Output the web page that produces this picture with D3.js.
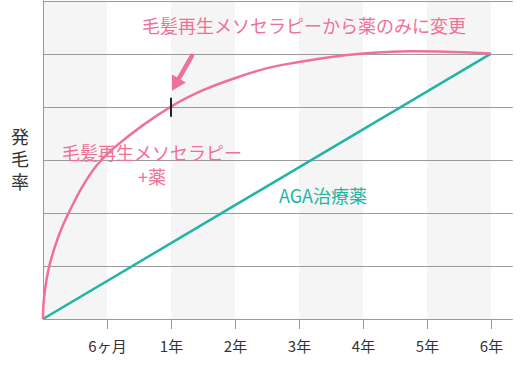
<!DOCTYPE html>
<html>
<head>
<meta charset="utf-8">
<script src="https://cdn.jsdelivr.net/npm/d3@7"></script>
<style>
  body { margin: 0; background: #fff; }
  svg { display: block; font-family: "Noto Sans CJK JP", sans-serif; }
</style>
</head>
<body>
<svg id="chart" width="526" height="372"></svg>
<script>
// tick labels along the bottom (index 1..7)
const xLabels = ['6ヶ月', '1年', '2年', '3年', '4年', '5年', '6年'];
const yGrid = [1, 2, 3, 4, 5, 6];

// mesotherapy + drug curve: [axis position, growth]
const mesoX = [0, 0.003, 0.013, 0.054, 0.103, 0.222, 0.306, 0.422, 0.609, 0.844, 1.156, 2.0, 2.5, 3.03, 3.55, 3.95, 4.48, 5.0, 5.58, 6.67, 7];
const mesoY = [0, 0.18, 0.36, 0.73, 1.02, 1.49, 1.75, 2.05, 2.48, 2.90, 3.27, 4.0, 4.31, 4.55, 4.74, 4.83, 4.93, 5.0, 5.04, 5.02, 5.0];

// AGA drug only
const agaX = [0, 7];
const agaY = [0, 5];

const pink = '#ef7199';
const teal = '#22b4a6';

const svg = d3.select('#chart');

const x = d3.scaleLinear().domain([0, 7]).range([43, 491]);
const y = d3.scaleLinear().domain([0, 6]).range([319, 0.5]);
const xMax = 7.34;

//shaded columns
svg.append('g')
    .selectAll('rect')
    .data([0, 2, 4, 6])
    .enter()
    .append('rect')
    .attr('x', d => x(d))
    .attr('width', d => x(d + 1) - x(d))
    .attr('y', y(6))
    .attr('height', y(0) - y(6))
    .attr('fill', '#f5f5f5');

//horizontal grid
svg.append('g')
    .selectAll('line')
    .data(yGrid)
    .enter()
    .append('line')
    .attr('x1', x(0))
    .attr('x2', x(xMax))
    .attr('y1', d => Math.round(y(d)) + 0.5)
    .attr('y2', d => Math.round(y(d)) + 0.5)
    .attr('stroke', '#9a9a9a')
    .attr('stroke-width', 1);

//x axis
const xAxis = d3.axisBottom(x)
    .tickValues(d3.range(1, 8))
    .tickFormat(d => xLabels[d - 1])
    .tickSize(10)
    .tickPadding(12)
    .tickSizeOuter(0);

const gx = svg.append('g')
    .attr('transform', 'translate(0,' + y(0) + ')')
    .call(xAxis);
gx.select('.domain').attr('d', 'M' + x(0) + ',0.5H' + x(xMax)).attr('stroke', '#9a9a9a');
gx.selectAll('.tick line').attr('stroke', '#9a9a9a');
gx.selectAll('.tick text')
    .attr('font-size', '15px')
    .attr('fill', '#333')
    .attr('font-family', '"Noto Sans CJK JP", sans-serif');

//y axis line
svg.append('line')
    .attr('x1', x(0) + 0.5).attr('x2', x(0) + 0.5)
    .attr('y1', y(6)).attr('y2', y(0))
    .attr('stroke', '#9a9a9a');

//y label, vertical
svg.append('text')
    .attr('x', 20)
    .attr('y', 128)
    .attr('font-size', '18px')
    .attr('fill', '#333')
    .style('writing-mode', 'vertical-rl')
    .style('letter-spacing', '4.5px')
    .text('発毛率');

//lines
const line = d3.line()
    .x(d => x(d[0]))
    .y(d => y(d[1]))
    .curve(d3.curveCatmullRom.alpha(0.5));

svg.append('path')
    .datum(d3.zip(agaX, agaY))
    .attr('d', line)
    .attr('fill', 'none')
    .attr('stroke', teal)
    .attr('stroke-width', 2.5);

svg.append('path')
    .datum(d3.zip(mesoX, mesoY))
    .attr('d', line)
    .attr('fill', 'none')
    .attr('stroke', pink)
    .attr('stroke-width', 2.5);

//switch marker at 1年
svg.append('line')
    .attr('x1', x(2)).attr('x2', x(2))
    .attr('y1', y(4) - 9).attr('y2', y(4) + 10)
    .attr('stroke', '#222')
    .attr('stroke-width', 2);

//arrow
const tipX = x(2) + 1, tipY = y(4) - 16;
const ang = Math.atan2(tipY - 47, tipX - 197);
const arrow = svg.append('g')
    .attr('transform', 'translate(' + tipX + ',' + tipY + ') rotate(' + (ang * 180 / Math.PI) + ')');
arrow.append('line')
    .attr('x1', -40).attr('x2', -10)
    .attr('y1', 0).attr('y2', 0)
    .attr('stroke', pink)
    .attr('stroke-width', 4.5)
    .attr('stroke-linecap', 'round');
arrow.append('path')
    .attr('d', 'M0,0L-14,-8L-14,8Z')
    .attr('fill', pink);

//annotations
svg.append('text')
    .attr('x', 304)
    .attr('y', 33)
    .attr('text-anchor', 'middle')
    .attr('font-size', '18px')
    .attr('fill', pink)
    .text('毛髪再生メソセラピーから薬のみに変更');

svg.append('text')
    .attr('x', 152)
    .attr('y', 160)
    .attr('text-anchor', 'middle')
    .attr('font-size', '18px')
    .attr('fill', pink)
    .text('毛髪再生メソセラピー');

svg.append('text')
    .attr('x', 152)
    .attr('y', 184)
    .attr('text-anchor', 'middle')
    .attr('font-size', '18px')
    .attr('fill', pink)
    .text('+薬');

svg.append('text')
    .attr('x', 279)
    .attr('y', 203)
    .attr('font-size', '18px')
    .attr('fill', teal)
    .text('AGA治療薬');
</script>
</body>
</html>
